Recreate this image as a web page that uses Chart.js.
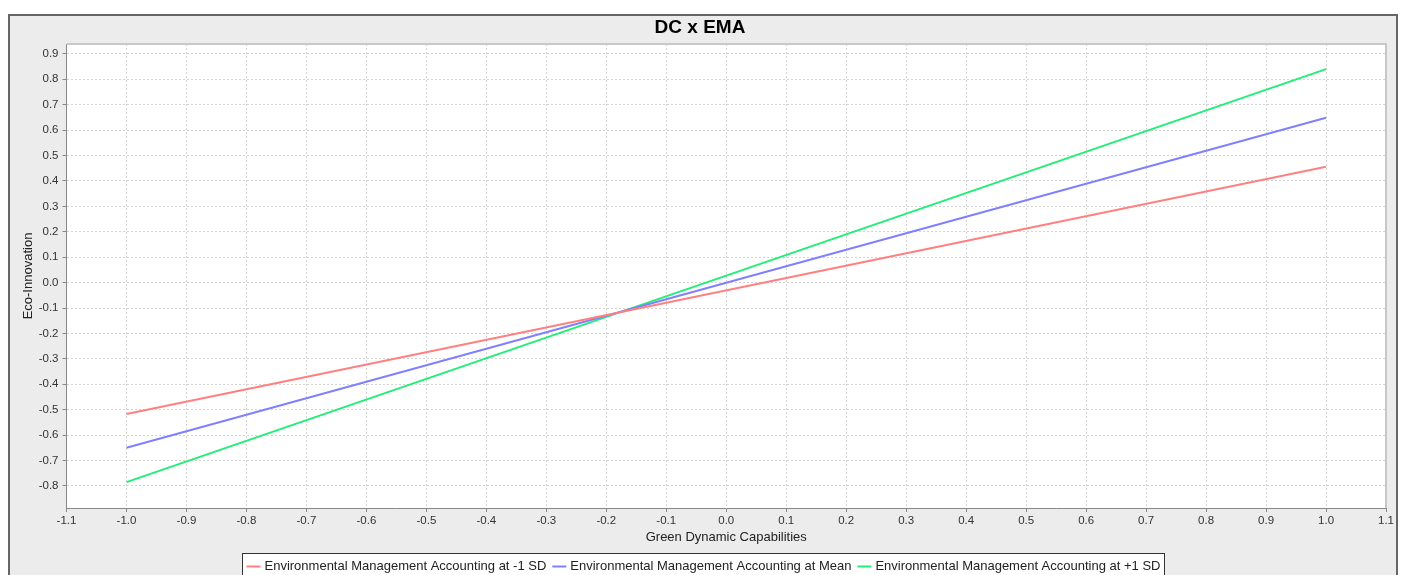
<!DOCTYPE html>
<html>
<head>
<meta charset="utf-8">
<script src="https://cdn.jsdelivr.net/npm/chart.js@4.4.1/dist/chart.umd.min.js"></script>
<style>
  html, body { margin: 0; padding: 0; background: #ffffff; overflow: hidden; width: 1405px; height: 575px; }
  #frame { position: absolute; left: 8px; top: 14px; width: 1386px; height: 600px;
           border-left: 2px solid #666; border-top: 2px solid #666; border-right: 2px solid #666;
           background: #ececec; }
  #c { display: block; }
</style>
</head>
<body>
<div id="frame"><canvas id="c" width="1386" height="580"></canvas></div>
<script>
// ---- data ----
const chartTitle = 'DC x EMA';
const xTitle = 'Green Dynamic Capabilities';
const yTitle = 'Eco-Innovation';
const xValues = [-1.0, 1.0];
const seriesLabels = [
  'Environmental Management Accounting at -1 SD',
  'Environmental Management Accounting at Mean',
  'Environmental Management Accounting at +1 SD'
];
const lowSD  = [-0.517, 0.456];
const meanSD = [-0.650, 0.649];
const highSD = [-0.785, 0.840];
const seriesColors = ['#ff8080', '#8080ff', '#22ee77'];

const allSeries = [lowSD, meanSD, highSD];
const datasets = allSeries.map((vals, i) => ({
  label: seriesLabels[i],
  data: xValues.map((x, j) => ({ x: x, y: vals[j] })),
  borderColor: seriesColors[i],
  backgroundColor: seriesColors[i],
  borderWidth: 2,
  pointRadius: 0,
  showLine: true,
  fill: false,
  tension: 0
}));

const fmt = v => (Math.abs(v) < 1e-9 ? '0.0' : v.toFixed(1));

const plotFrame = {
  id: 'plotFrame',
  beforeDraw(chart) {
    const { ctx, chartArea: a } = chart;
    ctx.save();
    ctx.fillStyle = '#ffffff';
    ctx.fillRect(a.left, a.top, a.right - a.left, a.bottom - a.top);
    ctx.restore();
  },
  afterDatasetsDraw(chart) {
    const { ctx, chartArea: a } = chart;
    ctx.save();
    ctx.strokeStyle = '#c8c8c8';
    ctx.lineWidth = 2;
    ctx.beginPath();
    ctx.moveTo(a.left, a.top);
    ctx.lineTo(a.right, a.top);
    ctx.lineTo(a.right, a.bottom);
    ctx.stroke();
    ctx.restore();
  }
};

const boxLegend = {
  id: 'boxLegend',
  afterDraw(chart) {
    const ctx = chart.ctx;
    ctx.save();
    ctx.font = '13px "Liberation Sans", Arial, sans-serif';
    const lineLen = 14, gapLine = 4, gapItem = 6, pad = 4;
    const items = chart.data.datasets.map(d => ({ text: d.label, color: d.borderColor, w: ctx.measureText(d.label).width }));
    let total = pad * 2;
    items.forEach((it, i) => { total += lineLen + gapLine + it.w + (i < items.length - 1 ? gapItem : 0); });
    const left = Math.round(chart.width / 2 - total / 2) + 0.5;
    const top = 537.5;
    ctx.fillStyle = '#ffffff';
    ctx.fillRect(left, top, total, 30);
    ctx.strokeStyle = '#333333';
    ctx.lineWidth = 1;
    ctx.strokeRect(left, top, total, 30);
    let x = left + pad;
    const cy = top + 13;
    items.forEach(it => {
      ctx.strokeStyle = it.color;
      ctx.lineWidth = 2;
      ctx.beginPath();
      ctx.moveTo(x, cy);
      ctx.lineTo(x + lineLen, cy);
      ctx.stroke();
      x += lineLen + gapLine;
      ctx.fillStyle = '#222222';
      ctx.textBaseline = 'middle';
      ctx.fillText(it.text, x, cy);
      x += it.w + gapItem;
    });
    ctx.restore();
  }
};

const tickFont = { family: '"Liberation Sans", Arial, sans-serif', size: 11.5 };
const titleFont = { family: '"Liberation Sans", Arial, sans-serif', size: 13 };

new Chart(document.getElementById('c'), {
  type: 'scatter',
  data: { datasets },
  options: {
    responsive: false,
    animation: false,
    layout: { padding: { left: 0, right: 6, top: 0, bottom: 43 } },
    plugins: {
      legend: { display: false },
      tooltip: { enabled: false },
      title: {
        display: true,
        text: chartTitle,
        color: '#000000',
        font: { family: '"Liberation Sans", Arial, sans-serif', size: 19, weight: 'bold' },
        padding: { top: 0, bottom: 5.2 }
      }
    },
    scales: {
      x: {
        type: 'linear',
        min: -1.1,
        max: 1.1,
        afterFit(s) { s.height = 45; },
        ticks: { stepSize: 0.1, callback: v => fmt(v), color: '#333333', font: tickFont, padding: 2, maxRotation: 0, autoSkip: false, includeBounds: false },
        grid: { color: '#d4d4d4', lineWidth: 1, tickLength: 4, tickColor: '#888888', tickBorderDash: [] },
        border: { display: true, color: '#888888', width: 1, dash: [2, 2] },
        title: { display: true, text: xTitle, color: '#222222', font: titleFont, padding: { top: 0, bottom: 8 } }
      },
      y: {
        type: 'linear',
        min: -0.887,
        max: 0.939,
        afterFit(s) { s.width = 56.5; },
        ticks: { stepSize: 0.1, callback: v => fmt(v), color: '#333333', font: tickFont, padding: 4, autoSkip: false, includeBounds: false },
        grid: { color: '#d4d4d4', lineWidth: 1, tickLength: 4, tickColor: '#888888', tickBorderDash: [] },
        border: { display: true, color: '#888888', width: 1, dash: [2, 2] },
        title: { display: true, text: yTitle, color: '#222222', font: titleFont, padding: { top: 11, bottom: 0 } }
      }
    }
  },
  plugins: [plotFrame, boxLegend]
});
</script>
</body>
</html>
